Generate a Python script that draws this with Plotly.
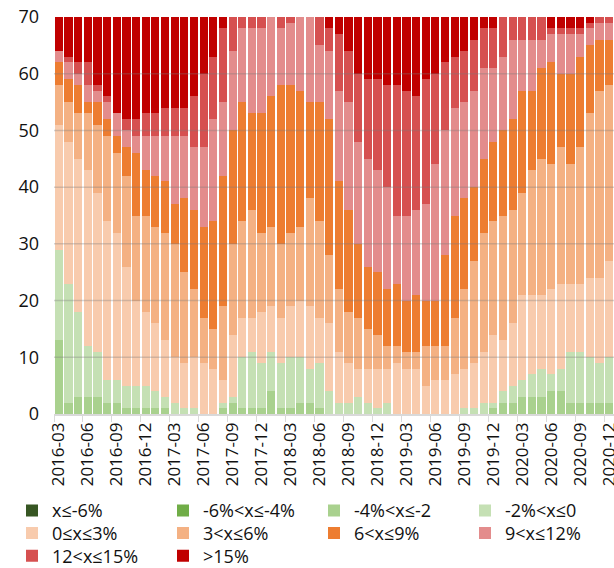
import pandas as pd
import plotly.graph_objects as go

# Month labels for the bars (2016-03 .. 2020-12)
months = list(pd.period_range("2016-03", "2020-12", freq="M").strftime("%Y-%m"))

# Number of cities in each year-on-year change band, per month
le_m6 = [0] * 58
m6_m4 = [0] * 58
m4_m2 = [13, 2, 3, 3, 3, 2, 2, 1, 1, 1, 1, 1, 0, 0, 0, 0, 0, 1, 2, 1,
         1, 1, 4, 1, 1, 2, 2, 1, 0, 0, 0, 0, 0, 0, 0, 0, 0, 0, 0, 0,
         0, 0, 0, 0, 0, 1, 2, 2, 3, 3, 3, 4, 4, 2, 2, 2, 2, 2]
m2_0 = [16, 21, 15, 9, 8, 4, 4, 4, 4, 4, 3, 2, 2, 1, 1, 0, 0, 1, 1, 9,
        10, 8, 7, 8, 9, 8, 6, 8, 4, 2, 2, 3, 2, 1, 2, 0, 0, 0, 0, 0,
        0, 0, 1, 1, 2, 1, 2, 3, 3, 4, 5, 3, 4, 9, 9, 8, 7, 8]
p0_3 = [22, 25, 27, 31, 28, 28, 26, 21, 15, 13, 12, 10, 8, 8, 9, 9, 8, 4, 11, 7,
        6, 9, 8, 8, 9, 10, 11, 8, 12, 9, 7, 5, 6, 7, 6, 9, 8, 8, 5, 6,
        6, 7, 7, 8, 9, 12, 9, 11, 15, 14, 13, 15, 15, 12, 12, 14, 15, 17]
p3_6 = [7, 7, 8, 10, 12, 15, 14, 16, 15, 17, 17, 19, 20, 16, 12, 8, 7, 13, 16, 17,
        19, 14, 14, 13, 13, 13, 19, 17, 12, 11, 9, 9, 7, 6, 4, 3, 3, 3, 7, 6,
        6, 10, 14, 18, 21, 20, 22, 20, 18, 22, 24, 22, 24, 21, 24, 29, 33, 31]
p6_9 = [4, 4, 5, 2, 4, 3, 3, 5, 11, 8, 9, 9, 7, 13, 14, 16, 19, 23, 20, 21,
        17, 21, 23, 28, 26, 24, 17, 21, 24, 19, 18, 13, 11, 11, 10, 11, 9, 10, 8, 8,
        16, 18, 16, 13, 13, 14, 15, 16, 18, 14, 16, 18, 13, 16, 16, 12, 9, 8]
p9_12 = [2, 3, 2, 3, 2, 3, 4, 3, 3, 6, 7, 8, 12, 11, 11, 14, 18, 13, 14, 13,
         15, 15, 14, 10, 11, 13, 15, 10, 12, 16, 19, 18, 19, 18, 18, 12, 15, 15, 17, 24,
         22, 19, 17, 17, 16, 13, 13, 14, 9, 9, 5, 5, 7, 7, 4, 3, 3, 3]
p12_15 = [0, 1, 2, 4, 1, 1, 0, 2, 3, 4, 4, 5, 5, 5, 9, 13, 11, 13, 6, 2,
          2, 2, 0, 2, 1, 0, 0, 5, 4, 10, 9, 12, 14, 16, 18, 23, 22, 20, 22, 16,
          12, 9, 9, 9, 7, 7, 7, 4, 4, 4, 4, 1, 1, 1, 1, 1, 1, 1]
gt15 = [6, 7, 8, 8, 12, 14, 17, 18, 18, 17, 17, 16, 16, 16, 14, 10, 7, 2, 0, 0,
        0, 0, 0, 0, 0, 0, 0, 0, 2, 3, 6, 10, 11, 11, 12, 12, 13, 14, 11, 10,
        8, 7, 6, 4, 2, 2, 0, 0, 0, 0, 0, 2, 2, 2, 2, 1, 0, 0]

band_names = ["x≤-6%", "-6%<x≤-4%", "-4%<x≤-2", "-2%<x≤0", "0≤x≤3%",
              "3<x≤6%", "6<x≤9%", "9<x≤12%", "12<x≤15%", ">15%"]
band_values = [le_m6, m6_m4, m4_m2, m2_0, p0_3, p3_6, p6_9, p9_12, p12_15, gt15]
band_colors = ["#375623", "#70AD47", "#A9D18E", "#C5E0B4", "#F8CBAD",
               "#F4B183", "#ED7D31", "#E38C8C", "#D65050", "#C00000"]

y_ticks = [0, 10, 20, 30, 40, 50, 60, 70]

# Four legend entries per row, each row is its own legend
row_legends = ["legend", "legend2", "legend3"]

fig = go.Figure()
for i, (name, vals, color) in enumerate(zip(band_names, band_values, band_colors)):
    fig.add_trace(go.Bar(x=months, y=vals, name=name, legend=row_legends[i // 4],
                         marker=dict(color=color, line=dict(width=0))))

# Horizontal gridlines drawn over the bars
for yv in y_ticks[1:-1]:
    fig.add_shape(type="line", xref="paper", x0=0, x1=1, yref="y", y0=yv, y1=yv,
                  line=dict(color="rgba(120,120,120,0.32)", width=1.5), layer="above")

legend_style = dict(orientation="h", x=-0.075, xanchor="left", yanchor="top",
                    font=dict(size=18), entrywidth=106, entrywidthmode="pixels",
                    traceorder="normal", itemclick=False, bgcolor="rgba(0,0,0,0)")

fig.update_layout(
    width=614, height=568,
    barmode="stack", bargap=0.15,
    plot_bgcolor="white", paper_bgcolor="white",
    margin=dict(l=54, r=0, t=17, b=154, autoexpand=False),
    font=dict(family="Open Sans", color="#111111"),
    legend=dict(legend_style, y=-0.197),
    legend2=dict(legend_style, y=-0.254),
    legend3=dict(legend_style, y=-0.311),
    xaxis=dict(type="category", range=[-0.5, 57.5], automargin=False,
               tickmode="array", tickvals=months[::3], ticktext=months[::3],
               tickangle=-90, tickfont=dict(size=17),
               ticks="outside", tickson="boundaries", ticklen=6,
               tickcolor="#D9D9D9", showline=True, linecolor="#D9D9D9", linewidth=1.5,
               showgrid=False),
    yaxis=dict(range=[0, 70], tickvals=y_ticks, tickfont=dict(size=18), automargin=False,
               showgrid=False, zeroline=False, showline=False, ticklabelstandoff=14),
)

fig.write_html("out.html")
